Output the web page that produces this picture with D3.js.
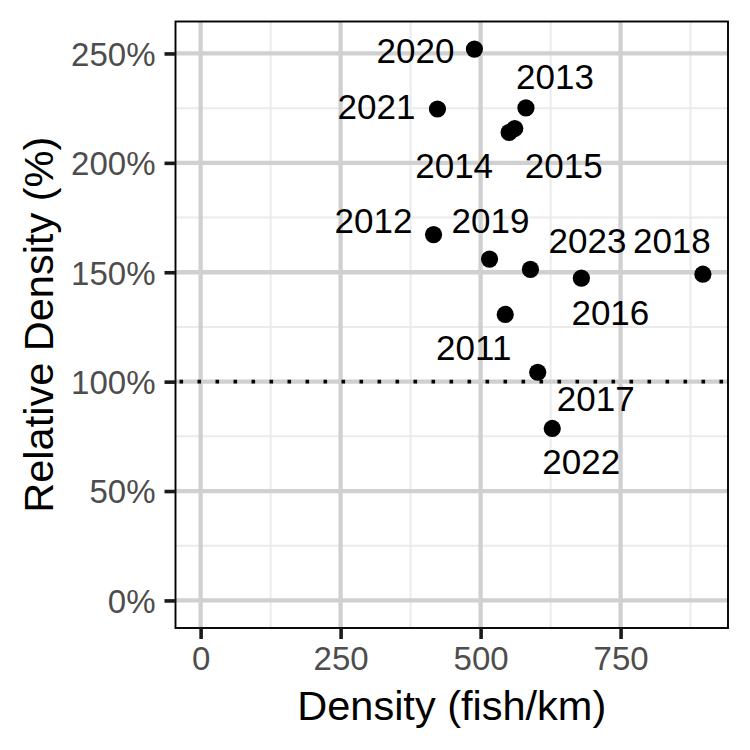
<!DOCTYPE html>
<html>
<head>
<meta charset="utf-8">
<script src="https://cdn.jsdelivr.net/npm/d3@7"></script>
<style>
  body{margin:0;background:#fff;}
  text{font-family:"Liberation Sans",Arial,Helvetica,sans-serif;}
</style>
</head>
<body>
<div id="grafico"></div>
<script>
// dados
const anos = [2011,2012,2013,2014,2015,2016,2017,2018,2019,2020,2021,2022,2023];
const densidade = [544,416,581,551,561,680,602,897,516,489,423,628,589]; // fish/km
const relativa = [130.7,167.2,225.1,213.9,215.7,147.3,104.3,149.1,156.0,252.0,224.6,78.6,151.3]; // %
// deslocamento dos rotulos (tipo ggrepel), em px
const rotDx = [-31.5,-60,29,-55,49,29,58,-31,1,-59,-61,29,57];
const rotDy = [33,-14,-31,33,37,34,26,-34,-39,1,-3,33,-29];

const xTicks = [0,250,500,750];
const xMinor = [125,375,625,875];
const yTicks = [0,50,100,150,200,250];
const yMinor = [25,75,125,175,225];
const linhaRef = 100;

const W=750, H=750;
const esq=175.5, dir=728, topo=21.5, baixo=628;

const svg = d3.select('#grafico').append('svg')
  .attr('width',W).attr('height',H);

// escalas com expansao de 5% como no ggplot
const xMax = d3.max(densidade), xMin = 0;
const yMax = d3.max(relativa), yMin = 0;
const ex = (xMax-xMin)*0.05, ey = (yMax-yMin)*0.05;
const x = d3.scaleLinear().domain([xMin-ex, xMax+ex]).range([esq, dir]);
const y = d3.scaleLinear().domain([yMin-ey, yMax+ey]).range([baixo, topo]);

const painel = svg.append('g');

// grade menor
painel.selectAll('.vmin').data(xMinor).enter().append('line')
  .attr('x1',d=>x(d)).attr('x2',d=>x(d)).attr('y1',topo).attr('y2',baixo)
  .attr('stroke','#ebebeb').attr('stroke-width',2);
painel.selectAll('.hmin').data(yMinor).enter().append('line')
  .attr('y1',d=>y(d)).attr('y2',d=>y(d)).attr('x1',esq).attr('x2',dir)
  .attr('stroke','#ebebeb').attr('stroke-width',2);
// grade maior
painel.selectAll('.vmaj').data(xTicks).enter().append('line')
  .attr('x1',d=>x(d)).attr('x2',d=>x(d)).attr('y1',topo).attr('y2',baixo)
  .attr('stroke','#d0d0d0').attr('stroke-width',4.3);
painel.selectAll('.hmaj').data(yTicks).enter().append('line')
  .attr('y1',d=>y(d)).attr('y2',d=>y(d)).attr('x1',esq).attr('x2',dir)
  .attr('stroke','#d0d0d0').attr('stroke-width',4.3);

// linha pontilhada em 100%
painel.append('line')
  .attr('x1',esq).attr('x2',dir).attr('y1',y(linhaRef)).attr('y2',y(linhaRef))
  .attr('stroke','#000').attr('stroke-width',3.6)
  .attr('stroke-dasharray','3.6 14.4').attr('stroke-dashoffset',-4);

// pontos
painel.selectAll('circle').data(anos).enter().append('circle')
  .attr('cx',(d,i)=>x(densidade[i])).attr('cy',(d,i)=>y(relativa[i]))
  .attr('r',8.6).attr('fill','#000');

// rotulos
const fsRot = 35;
painel.selectAll('.rot').data(anos).enter().append('text')
  .attr('x',(d,i)=>x(densidade[i])+rotDx[i])
  .attr('y',(d,i)=>y(relativa[i])+rotDy[i]+fsRot*0.358)
  .attr('text-anchor','middle').attr('font-size',fsRot).attr('fill','#000')
  .text(d=>d);

// borda do painel
svg.append('rect').attr('x',esq).attr('y',topo)
  .attr('width',dir-esq).attr('height',baixo-topo)
  .attr('fill','none').attr('stroke','#000').attr('stroke-width',1.9);

// eixos
const eixoX = svg.append('g').attr('transform',`translate(0,${baixo})`)
  .call(d3.axisBottom(x).tickValues(xTicks).tickSize(11).tickPadding(8).tickFormat(d3.format('d')));
const eixoY = svg.append('g').attr('transform',`translate(${esq},0)`)
  .call(d3.axisLeft(y).tickValues(yTicks).tickSize(11).tickPadding(9).tickFormat(d=>d+'%'));
[eixoX,eixoY].forEach(e=>{
  e.select('.domain').remove();
  e.selectAll('.tick line').attr('stroke','#1a1a1a').attr('stroke-width',3.6);
  e.selectAll('.tick text').attr('fill','#4d4d4d').attr('font-size',33)
    .attr('font-family','"Liberation Sans",Arial,sans-serif');
});
eixoX.selectAll('.tick text').attr('dy','0.71em');
eixoY.selectAll('.tick text').attr('dy','0.36em');

// titulos
svg.append('text').attr('x',(esq+dir)/2).attr('y',720)
  .attr('text-anchor','middle').attr('font-size',41.5).attr('fill','#000')
  .text('Density (fish/km)');
svg.append('text')
  .attr('transform',`translate(53,${(topo+baixo)/2}) rotate(-90)`)
  .attr('text-anchor','middle').attr('font-size',41.5).attr('fill','#000')
  .text('Relative Density (%)');
</script>
</body>
</html>
